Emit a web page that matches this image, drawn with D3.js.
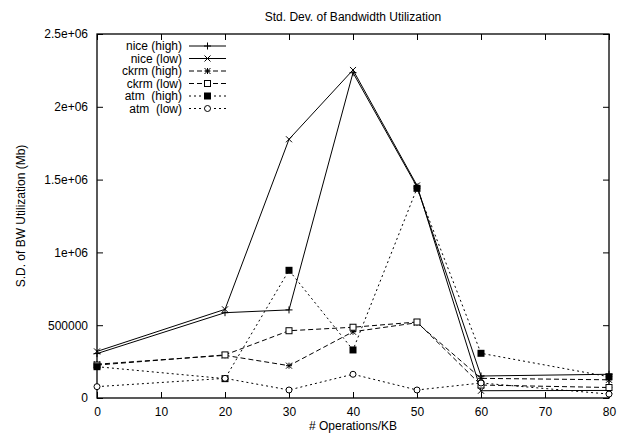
<!DOCTYPE html>
<html><head><meta charset="utf-8">
<script src="https://cdn.jsdelivr.net/npm/d3@7"></script>
<style>body{margin:0;background:#fff}svg text{font-family:"Liberation Sans",Arial,sans-serif;fill:#000}</style>
</head><body><svg id="c" width="617" height="437"></svg>
<script>
const xValues = [0, 20, 30, 40, 50, 60, 80];
const seriesNames = ["nice (high)", "nice (low)", "ckrm (high)", "ckrm (low)", "atm  (high)", "atm  (low)"];
const niceHigh = [305000, 586000, 605000, 2234000, 1450000, 151000, 163000];
const niceLow  = [320000, 609000, 1777000, 2253000, 1460000, 50000, 52000];
const ckrmHigh = [232000, 293000, 222000, 455000, 517000, 135000, 125000];
const ckrmLow  = [226000, 296000, 462000, 486000, 522000, 89000, 72000];
const atmHigh  = [215000, 133000, 877000, 330000, 1440000, 307000, 146000];
const atmLow   = [78000, 135000, 55000, 163000, 55000, 103000, 27000];
const xTicks = [0, 10, 20, 30, 40, 50, 60, 70, 80];
const yTicks = [0, 500000, 1000000, 1500000, 2000000, 2500000];
const yTickLabels = ["0", "500000", "1e+06", "1.5e+06", "2e+06", "2.5e+06"];

const seriesValues = [niceHigh, niceLow, ckrmHigh, ckrmLow, atmHigh, atmLow];
const dashes = [null, null, "5,3", "5,3", "2,3", "2,3"];
const markers = ["plus", "cross", "star", "box", "fbox", "circle"];

const svg = d3.select("#c");
const L = 97, R = 609, T = 34, B = 398;
const FS = 12;
const x = d3.scaleLinear().domain([0, 80]).range([L, R]);
const y = d3.scaleLinear().domain([0, 2500000]).range([B, T]);

// title & labels
svg.append("text").attr("x", (L + R) / 2).attr("y", 21).attr("text-anchor", "middle").attr("font-size", FS).text("Std. Dev. of Bandwidth Utilization");
svg.append("text").attr("x", (L + R) / 2).attr("y", 430).attr("text-anchor", "middle").attr("font-size", FS).text("# Operations/KB");
svg.append("text").attr("transform", `translate(25,${(T + B) / 2}) rotate(-90)`).attr("text-anchor", "middle").attr("font-size", FS).text("S.D. of BW Utilization (Mb)");

// axes
const xb = d3.axisBottom(x).tickValues(xTicks).tickSize(-6).tickPadding(9);
const xt = d3.axisTop(x).tickValues(xTicks).tickSize(-6).tickFormat("");
const yl = d3.axisLeft(y).tickValues(yTicks).tickSize(-6).tickPadding(9).tickFormat((d, i) => yTickLabels[i]);
const yr = d3.axisRight(y).tickValues(yTicks).tickSize(-6).tickFormat("");
[[xb, `translate(0,${B})`], [xt, `translate(0,${T})`], [yl, `translate(${L},0)`], [yr, `translate(${R},0)`]].forEach(([a, t]) => {
  const g = svg.append("g").attr("transform", t).call(a);
  g.select(".domain").remove();
  g.selectAll("line").attr("stroke", "#000");
  g.selectAll("text").attr("font-size", FS).attr("font-family", "Liberation Sans, Arial, sans-serif");
});
svg.append("rect").attr("x", L).attr("y", T).attr("width", R - L).attr("height", B - T).attr("fill", "none").attr("stroke", "#000").attr("stroke-width", 1.3);

function drawMarker(g, type, cx, cy) {
  const s = 3;
  if (type === "plus") {
    g.append("path").attr("d", `M${cx - s - 0.5},${cy}H${cx + s + 0.5}M${cx},${cy - s - 0.5}V${cy + s + 0.5}`).attr("stroke", "#000");
  } else if (type === "cross") {
    g.append("path").attr("d", `M${cx - s},${cy - s}L${cx + s},${cy + s}M${cx - s},${cy + s}L${cx + s},${cy - s}`).attr("stroke", "#000");
  } else if (type === "star") {
    g.append("path").attr("d", `M${cx - s},${cy}H${cx + s}M${cx},${cy - s}V${cy + s}M${cx - s},${cy - s}L${cx + s},${cy + s}M${cx - s},${cy + s}L${cx + s},${cy - s}`).attr("stroke", "#000");
  } else if (type === "box") {
    g.append("rect").attr("x", cx - s).attr("y", cy - s).attr("width", 2 * s).attr("height", 2 * s).attr("fill", "#fff").attr("stroke", "#000");
  } else if (type === "fbox") {
    g.append("rect").attr("x", cx - s - 0.5).attr("y", cy - s - 0.5).attr("width", 2 * s + 1).attr("height", 2 * s + 1).attr("fill", "#000");
  } else if (type === "circle") {
    g.append("circle").attr("cx", cx).attr("cy", cy).attr("r", s).attr("fill", "#fff").attr("stroke", "#000");
  }
}

const line = d3.line().x((d, i) => x(xValues[i])).y(d => y(d));
const plot = svg.append("g");
seriesValues.forEach((vals, k) => {
  plot.append("path").attr("d", line(vals)).attr("fill", "none").attr("stroke", "#000").attr("stroke-width", 1).attr("stroke-dasharray", dashes[k]);
});
seriesValues.forEach((vals, k) => {
  vals.forEach((v, i) => drawMarker(plot, markers[k], x(xValues[i]), y(v)));
});

// legend
const leg = svg.append("g");
seriesNames.forEach((n, k) => {
  const ly = 46 + k * 12.5;
  leg.append("text").attr("x", 182).attr("y", ly + 4).attr("text-anchor", "end").attr("font-size", FS).attr("xml:space", "preserve").style("white-space", "pre").text(n);
  leg.append("line").attr("x1", 189).attr("x2", 226).attr("y1", ly).attr("y2", ly).attr("stroke", "#000").attr("stroke-dasharray", dashes[k]);
  drawMarker(leg, markers[k], 207.5, ly);
});
</script></body></html>
